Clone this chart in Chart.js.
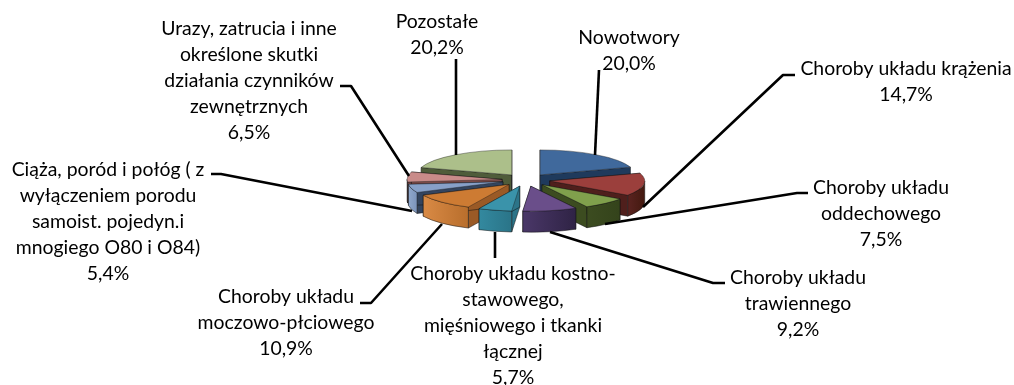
<!DOCTYPE html>
<html><head><meta charset="utf-8">
<style>html,body{margin:0;padding:0;background:#fff}#w{position:absolute;left:0;top:0;width:1014px;height:385px}</style>
<script src="https://cdn.jsdelivr.net/npm/chart.js@4"></script>
</head><body><div id="w"><canvas id="c" width="1014" height="385"></canvas></div>
<script>
const categories = ["Nowotwory","Choroby układu krążenia","Choroby układu oddechowego","Choroby układu trawiennego","Choroby układu kostno-stawowego, mięśniowego i tkanki łącznej","Choroby układu moczowo-płciowego","Ciąża, poród i połóg ( z wyłączeniem porodu samoist. pojedyn.i mnogiego O80 i O84)","Urazy, zatrucia i inne określone skutki działania czynników zewnętrznych","Pozostałe"];
const values = [20.0,14.7,7.5,9.2,5.7,10.9,5.4,6.5,20.2];
const valueLabels = ["20,0%","14,7%","7,5%","9,2%","5,7%","10,9%","5,4%","6,5%","20,2%"];
const topColors = ["#40699c","#9b3f3c","#80a04c","#6a4e8a","#3a93aa","#cd7b33","#87a0c8","#c98b89","#acbf8a"];
const cutColors = ["#1f3a5c","#4f1f1c","#3c4c20","#3a2b52","#2c7488","#9a5a26","#33445e","#7a4a48","#4f5c3a"];
const wallFrom = ["#23405f","#5a2320","#3c4c20","#4a3768","#33899f","#d98a45","#90a8cc","#8a5755","#5c6b45"];
const wallTo = ["#1b3350","#43190f","#34431b","#2f2345","#2a7488","#b86e2c","#7b93ba","#6f4543","#4a5737"];
const labelLines = [["Nowotwory"],["Choroby układu krążenia"],["Choroby układu","oddechowego"],["Choroby układu","trawiennego"],["Choroby układu kostno-","stawowego,","mięśniowego i tkanki","łącznej"],["Choroby układu","moczowo-płciowego"],["Ciąża, poród i połóg ( z","wyłączeniem porodu","samoist. pojedyn.i","mnogiego O80 i O84)"],["Urazy, zatrucia i inne","określone skutki","działania czynników","zewnętrznych"],["Pozostałe"]];
const labelCenterX = [629,906,881,798,513,286,108,249,437];
const labelTopY = [38,69,188,278,274,297,170,29,22];
const leaders = [[[599,70],[595,155]],[[795,75],[783,75],[643,207]],[[808,193],[797,193],[605,224]],[[725,283],[713,283],[550,232]],[[495,232],[495,258]],[[360,303],[371,303],[442,224]],[[211,174],[221,174],[412,211]],[[340,86],[351,86],[409,176]],[[456,59],[456,155]]];

const PIE_CX = 526, PIE_CY = 180, SQUASH = 0.263, DEPTH = 21, OFFSET = 24, RADIUS = 95, LINE_H = 26;

const pie3d = {
  id:'pie3d',
  beforeDatasetsDraw(chart){
    const ctx = chart.ctx, arcs = chart.getDatasetMeta(0).data;
    const order = arcs.map((a,i)=>i).sort((p,q)=>Math.sin((arcs[p].startAngle+arcs[p].endAngle)/2)-Math.sin((arcs[q].startAngle+arcs[q].endAngle)/2));
    const px = (a,ang,r)=>{
      const mid=(a.startAngle+a.endAngle)/2;
      return [PIE_CX+OFFSET*Math.cos(mid)+r*Math.cos(ang), PIE_CY+(OFFSET*Math.sin(mid)+r*Math.sin(ang))*SQUASH];
    };
    const outline='rgba(20,20,20,.75)';
    for(const i of order){
      const a=arcs[i], r=a.outerRadius, mid=(a.startAngle+a.endAngle)/2;
      const apex=px(a,0,0);
      for(const ang of [a.startAngle,a.endAngle]){
        const e=px(a,ang,r);
        ctx.beginPath();ctx.moveTo(apex[0],apex[1]);ctx.lineTo(e[0],e[1]);ctx.lineTo(e[0],e[1]+DEPTH);ctx.lineTo(apex[0],apex[1]+DEPTH);ctx.closePath();
        ctx.fillStyle=cutColors[i];ctx.fill();ctx.strokeStyle=outline;ctx.lineWidth=.7;ctx.stroke();
      }
      const TAU=Math.PI*2;
      const ranges=[];
      for(let k=-1;k<=2;k++){const lo=Math.max(a.startAngle,k*TAU),hi=Math.min(a.endAngle,k*TAU+Math.PI);if(hi>lo)ranges.push([lo,hi]);}
      for(const [lo,hi] of ranges){
        const p1=px(a,lo,r),p2=px(a,hi,r);
        const g=ctx.createLinearGradient(Math.min(p1[0],p2[0]),0,Math.max(p1[0],p2[0]),0);
        g.addColorStop(0,wallFrom[i]);g.addColorStop(1,wallTo[i]);
        ctx.beginPath();
        ctx.ellipse(apex[0],apex[1],r,r*SQUASH,0,lo,hi,false);
        ctx.ellipse(apex[0],apex[1]+DEPTH,r,r*SQUASH,0,hi,lo,true);
        ctx.closePath();ctx.fillStyle=g;ctx.fill();ctx.strokeStyle=outline;ctx.lineWidth=.7;ctx.stroke();
      }
      ctx.save();
      ctx.translate(apex[0]-a.x,apex[1]);
      ctx.scale(1,SQUASH);
      ctx.translate(0,-a.y);
      a.draw(ctx);
      ctx.restore();
    }
    return false;
  },
  afterDraw(chart){
    const ctx=chart.ctx;
    ctx.save();
    ctx.strokeStyle='#000';ctx.lineWidth=2.6;ctx.lineJoin='round';
    for(const l of leaders){ctx.beginPath();l.forEach((p,j)=>j?ctx.lineTo(p[0],p[1]):ctx.moveTo(p[0],p[1]));ctx.stroke();}
    ctx.fillStyle='#000';ctx.font='19.4px Lato';ctx.textAlign='center';ctx.textBaseline='middle';
    labelLines.forEach((ls,i)=>{
      [...ls,valueLabels[i]].forEach((t,j)=>ctx.fillText(t,labelCenterX[i],labelTopY[i]+j*LINE_H));
    });
    ctx.restore();
  }
};

new Chart(document.getElementById('c'),{
  type:'pie',
  data:{labels:categories,datasets:[{data:values,backgroundColor:topColors,borderColor:'rgba(20,20,20,.75)',borderWidth:.8,radius:RADIUS}]},
  options:{responsive:false,animation:false,events:[],
    plugins:{legend:{display:false},tooltip:{enabled:false}}},
  plugins:[pie3d]
});
</script></body></html>
